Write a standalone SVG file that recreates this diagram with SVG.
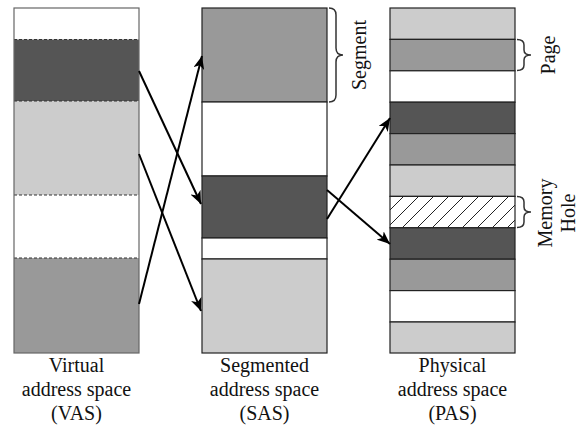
<svg xmlns="http://www.w3.org/2000/svg" width="577" height="429" viewBox="0 0 577 429">
<style>
.dk{fill:#555555}
.md{fill:#999999}
.lt{fill:#cccccc}
.wh{fill:#ffffff}
.sas rect,.pas rect{stroke:#222222;stroke-width:1.2}
.dash{stroke:#333333;stroke-width:1.2;stroke-dasharray:3,2}
.lbl{font-family:"Liberation Serif","Times New Roman",serif;font-size:20px;fill:#111111;text-anchor:middle}
.brace{fill:none;stroke:#333333;stroke-width:1.5}
.arr{stroke:#000000;stroke-width:2;fill:none;marker-end:url(#ah)}
</style>
<defs>
<marker id="ah" markerWidth="15" markerHeight="11" refX="13" refY="5.5" orient="auto" markerUnits="userSpaceOnUse">
<path d="M0,0 L13,5.5 L0,11 L3.5,5.5 Z" fill="#000000"/>
</marker>
<pattern id="hatch" patternUnits="userSpaceOnUse" width="15" height="15">
<rect width="15" height="15" fill="#ffffff"/>
<line x1="0" y1="15" x2="15" y2="0" stroke="#222222" stroke-width="1"/>
<line x1="-3" y1="3" x2="3" y2="-3" stroke="#222222" stroke-width="1"/>
<line x1="12" y1="18" x2="18" y2="12" stroke="#222222" stroke-width="1"/>
</pattern>
</defs>

<g id="vas" class="vas">
<rect class="wh" x="14" y="8" width="125" height="31.5"/>
<rect class="dk" x="14" y="39.5" width="125" height="61.5"/>
<rect class="lt" x="14" y="101" width="125" height="94"/>
<rect class="wh" x="14" y="195" width="125" height="63"/>
<rect class="md" x="14" y="258" width="125" height="95"/>
<line class="dash" x1="14" y1="39.5" x2="139" y2="39.5"/>
<line class="dash" x1="14" y1="101" x2="139" y2="101"/>
<line class="dash" x1="14" y1="195" x2="139" y2="195"/>
<line class="dash" x1="14" y1="258" x2="139" y2="258"/>
<rect x="14" y="8" width="125" height="345" fill="none" stroke="#666666" stroke-width="1.2"/>
<text class="lbl" x="76.5" y="372">Virtual</text>
<text class="lbl" x="76.5" y="396">address space</text>
<text class="lbl" x="76.5" y="420">(VAS)</text>
</g>

<g id="sas" class="sas">
<rect class="md" x="202" y="8" width="125" height="94"/>
<rect class="wh" x="202" y="102" width="125" height="74"/>
<rect class="dk" x="202" y="176" width="125" height="62"/>
<rect class="wh" x="202" y="238" width="125" height="21"/>
<rect class="lt" x="202" y="259" width="125" height="94"/>
<text class="lbl" x="264.5" y="372">Segmented</text>
<text class="lbl" x="264.5" y="396">address space</text>
<text class="lbl" x="264.5" y="420">(SAS)</text>
</g>

<g id="segment-label">
<path class="brace" d="M329,8 Q336,8 336,15 L336,48 Q336,55 343,55 Q336,55 336,62 L336,95 Q336,102 329,102"/>
<text class="lbl" transform="translate(366,55) rotate(-90)" x="0" y="0">Segment</text>
</g>

<g id="pas" class="pas">
<rect class="lt" x="390" y="8" width="125" height="31.4"/>
<rect class="md" x="390" y="39.4" width="125" height="31.4"/>
<rect class="wh" x="390" y="70.8" width="125" height="31.4"/>
<rect class="dk" x="390" y="102.2" width="125" height="31.4"/>
<rect class="md" x="390" y="133.6" width="125" height="31.4"/>
<rect class="lt" x="390" y="165" width="125" height="31.4"/>
<rect x="390" y="196.4" width="125" height="31.4" fill="url(#hatch)"/>
<rect class="dk" x="390" y="227.8" width="125" height="31.4"/>
<rect class="md" x="390" y="259.2" width="125" height="31.4"/>
<rect class="wh" x="390" y="290.6" width="125" height="31.4"/>
<rect class="lt" x="390" y="322" width="125" height="31"/>
<text class="lbl" x="452.5" y="372">Physical</text>
<text class="lbl" x="452.5" y="396">address space</text>
<text class="lbl" x="452.5" y="420">(PAS)</text>
</g>

<g id="page-label">
<path class="brace" d="M517,39.5 Q524,39.5 524,45 L524,50 Q524,55 531,55 Q524,55 524,60 L524,65 Q524,70.5 517,70.5"/>
<text class="lbl" transform="translate(555,55) rotate(-90)" x="0" y="0">Page</text>
</g>

<g id="hole-label">
<path class="brace" d="M517,196.5 Q524,196.5 524,202 L524,207 Q524,212 531,212 Q524,212 524,217 L524,222 Q524,227.5 517,227.5"/>
<text class="lbl" transform="translate(552,213) rotate(-90)" x="0" y="0">Memory</text>
<text class="lbl" transform="translate(574.5,213) rotate(-90)" x="0" y="0">Hole</text>
</g>

<g id="connectors">
<line class="arr" x1="139" y1="71" x2="201" y2="204"/>
<line class="arr" x1="139" y1="154" x2="201" y2="311"/>
<line class="arr" x1="139" y1="304" x2="202" y2="56"/>
<line class="arr" x1="327" y1="219" x2="390" y2="118"/>
<line class="arr" x1="327" y1="190" x2="390" y2="244"/>
</g>
</svg>
